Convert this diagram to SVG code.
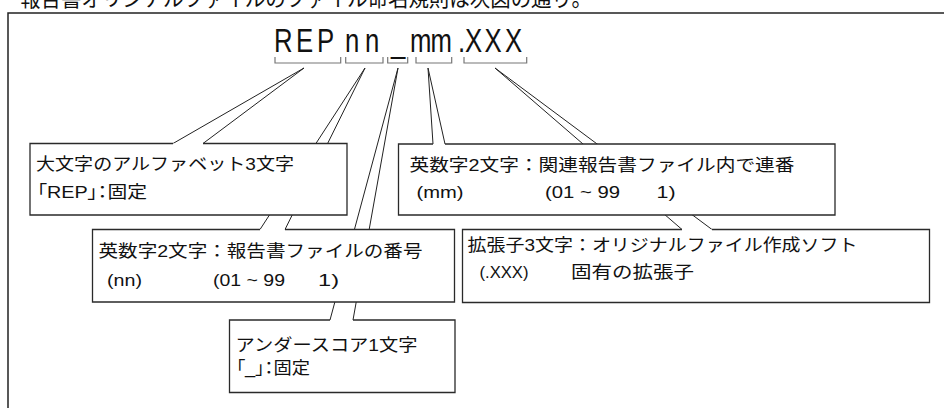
<svg xmlns="http://www.w3.org/2000/svg" width="944" height="408" viewBox="0 0 944 408">
<style>
.frame{fill:none;stroke:#222;stroke-width:1.5}
.br{fill:none;stroke:#777;stroke-width:1.2}
.ln{fill:none;stroke:#222;stroke-width:1}
.bg{fill:#fff;stroke:none}
.bd{fill:none;stroke:#2a2a2a;stroke-width:1.3}
.t{font-family:"Liberation Sans","Noto Sans CJK JP",sans-serif;font-size:17px;fill:#111}
.p{font-feature-settings:"palt"}
.fn{font-family:"Liberation Sans",sans-serif;font-size:33px;fill:#111}
.ti{font-family:"Noto Sans CJK JP",sans-serif;font-size:22px;fill:#111}
</style>
<rect x="0" y="0" width="944" height="408" fill="#fff"/>
<text class="ti" x="20" y="5.5" textLength="572" lengthAdjust="spacingAndGlyphs">報告書オリジナルファイルのファイル命名規則は次図の通り。</text>
<path class="frame" d="M8,410 V13 H946"/>
<g id="filename">
<text class="fn" transform="translate(0,51.7) scale(0.78,1)" y="0" x="351.3 379.5 406.4 442.3 467.9 501.3 525.6 551.9 587.2 596.2 621.2 647.4">REPnn_mm.XXX</text>
<path class="br" d="M275,57 V63 H340.7 V57 M345.7,57 V63 H383 V57 M387.7,57 V63 H407.7 V57 M416,57 V63 H451.7 V57 M464,57 V63 H526.7 V57"/>
</g>
<g id="connectors">
<path class="ln" d="M173,143.5 L304,68 L203,143.5"/>
<path class="ln" d="M260,229.5 L365,68 L285,229.5"/>
<path class="ln" d="M330,320 L398,68 L353,320"/>
<path class="ln" d="M433,144 L428,68 L445,144"/>
<path class="ln" d="M682,229.5 L495,68 L712,229.5"/>
</g>
<g id="node-rep">
<rect class="bg" x="30" y="143.5" width="317" height="71.5"/>
<path class="bd" d="M203,143.5 H347 V215 H30 V143.5 H173"/>
<text class="t" x="36" y="170" textLength="258" lengthAdjust="spacingAndGlyphs">大文字のアルファベット3文字</text>
<text class="t p" x="37" y="198" textLength="110" lengthAdjust="spacingAndGlyphs">「REP」：固定</text>
</g>
<g id="node-nn">
<rect class="bg" x="92.5" y="229.5" width="362" height="72.5"/>
<path class="bd" d="M285,229.5 H454.5 V302 H92.5 V229.5 H260"/>
<text class="t" x="98.5" y="257" textLength="324" lengthAdjust="spacingAndGlyphs">英数字2文字：報告書ファイルの番号</text>
<text class="t" x="107" y="285.5" textLength="35" lengthAdjust="spacingAndGlyphs">(nn)</text>
<text class="t" x="213" y="285.5" textLength="72" lengthAdjust="spacingAndGlyphs">(01 ~ 99</text>
<text class="t" x="318" y="285.5" textLength="21" lengthAdjust="spacingAndGlyphs">1)</text>
</g>
<g id="node-underscore">
<rect class="bg" x="229.5" y="320" width="225.5" height="72.5"/>
<path class="bd" d="M353,320 H455 V392.5 H229.5 V320 H330"/>
<text class="t" x="235.5" y="350.5" textLength="182" lengthAdjust="spacingAndGlyphs">アンダースコア1文字</text>
<text class="t p" x="236" y="374" textLength="74" lengthAdjust="spacingAndGlyphs">「_」：固定</text>
</g>
<g id="node-mm">
<rect class="bg" x="398.5" y="144" width="436.5" height="71"/>
<path class="bd" d="M445,144 H835 V215 H398.5 V144 H433"/>
<text class="t" x="409.5" y="171" textLength="385" lengthAdjust="spacingAndGlyphs">英数字2文字：関連報告書ファイル内で連番</text>
<text class="t" x="416.5" y="198" textLength="47" lengthAdjust="spacingAndGlyphs">(mm)</text>
<text class="t" x="545" y="198" textLength="75" lengthAdjust="spacingAndGlyphs">(01 ~ 99</text>
<text class="t" x="656.5" y="198" textLength="19" lengthAdjust="spacingAndGlyphs">1)</text>
</g>
<g id="node-ext">
<rect class="bg" x="462.5" y="229.5" width="467" height="73"/>
<path class="bd" d="M712,229.5 H929.5 V302.5 H462.5 V229.5 H682"/>
<text class="t" x="467.5" y="251" textLength="390" lengthAdjust="spacingAndGlyphs">拡張子3文字：オリジナルファイル作成ソフト</text>
<text class="t" x="479.5" y="277.5" textLength="49" lengthAdjust="spacingAndGlyphs">(.XXX)</text>
<text class="t" x="571" y="277.5" textLength="123" lengthAdjust="spacingAndGlyphs">固有の拡張子</text>
</g>
</svg>
